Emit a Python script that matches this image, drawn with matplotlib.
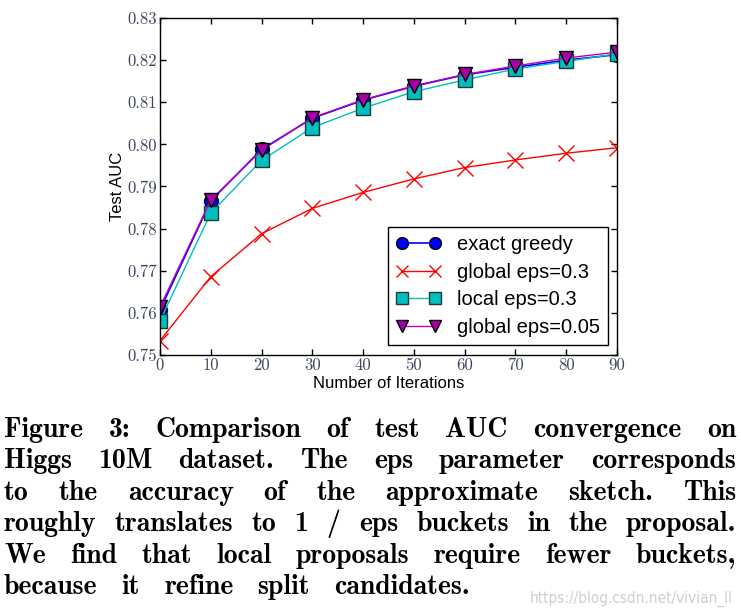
import matplotlib
matplotlib.use("Agg")
import matplotlib.pyplot as plt

# iterations and test AUC
iterations = [0, 10, 20, 30, 40, 50, 60, 70, 80, 90]
exact_greedy = [0.7607, 0.7866, 0.7988, 0.8062, 0.8105, 0.8138, 0.8165, 0.8183, 0.8200, 0.8213]
global_eps_03 = [0.7534, 0.7686, 0.7788, 0.7848, 0.7886, 0.7918, 0.7945, 0.7963, 0.7979, 0.7992]
local_eps_03 = [0.7581, 0.7837, 0.7962, 0.8040, 0.8086, 0.8125, 0.8153, 0.8179, 0.8197, 0.8215]
global_eps_005 = [0.7614, 0.7868, 0.7986, 0.8063, 0.8106, 0.8139, 0.8166, 0.8186, 0.8205, 0.8219]

x_ticks = [0, 10, 20, 30, 40, 50, 60, 70, 80, 90]
y_ticks = [0.75, 0.76, 0.77, 0.78, 0.79, 0.80, 0.81, 0.82, 0.83]

caption_lines = [
    "Figure 3: Comparison of test AUC convergence on",
    "Higgs 10M dataset. The eps parameter corresponds",
    "to the accuracy of the approximate sketch.  This",
    "roughly translates to 1 / eps buckets in the proposal.",
    "We find that local proposals require fewer buckets,",
    "because it refine split candidates.",
]

W, H = 741, 615
fig = plt.figure(figsize=(W / 100, H / 100), dpi=100)
ax = fig.add_axes([160 / W, 1 - 355 / H, (617 - 160) / W, (355 - 18) / H])

sans = ["Liberation Sans", "DejaVu Sans"]

ax.plot(iterations, exact_greedy, color="blue", lw=1.2, marker="o", ms=10,
        mfc="blue", mec="black", mew=1, label="exact greedy")
ax.plot(iterations, global_eps_03, color="red", lw=1.0, marker="x", ms=11,
        mew=1.0, label="global eps=0.3")
ax.plot(iterations, local_eps_03, color="c", lw=1.0, marker="s", ms=10,
        mfc="c", mec="#1a3a3a", mew=1, label="local eps=0.3")
ax.plot(iterations, global_eps_005, color="m", lw=1.0, marker="v", ms=10,
        mfc="#aa00aa", mec="black", mew=1, label="global eps=0.05")

ax.set_xlim(0, 90)
ax.set_ylim(0.75, 0.83)
ax.set_xticks(x_ticks)
ax.set_yticks(y_ticks)
ax.set_xticklabels([str(t) for t in x_ticks], family="cmr10", fontsize=12, color="#3c4660")
ax.set_yticklabels(["%.2f" % t for t in y_ticks], family="cmr10", fontsize=12, color="#3c4660")
ax.tick_params(direction="in", top=True, right=True, length=4, width=1, pad=2)
for s in ax.spines.values():
    s.set_linewidth(1.0)

ax.set_xlabel("Number of Iterations", family=sans, fontsize=12, labelpad=2)
ax.set_ylabel("Test AUC", family=sans, fontsize=12, labelpad=2)

leg = ax.legend(loc="lower right", bbox_to_anchor=(0.98, 0.03), borderaxespad=0,
                numpoints=2, handlelength=2.2, handletextpad=0.8, fancybox=False,
                framealpha=1, edgecolor="black", prop={"family": sans, "size": 14.5},
                labelspacing=0.42, borderpad=0.4, markerscale=0.85)
leg.get_frame().set_linewidth(1.0)

# justified caption, last line stops short
fig.canvas.draw()
renderer = fig.canvas.get_renderer()
left_px = 4
line_ends = [736, 736, 736, 736, 736, 470]
base0, step = 437, 31.4
for i, line in enumerate(caption_lines):
    words = line.split()
    y = 1 - (base0 + i * step) / H
    texts = [fig.text(0, y, w, family="cmb10", fontsize=20, va="baseline") for w in words]
    widths = [t.get_window_extent(renderer).width for t in texts]
    gap = (line_ends[i] - left_px - sum(widths)) / (len(words) - 1)
    x = left_px
    for t, w in zip(texts, widths):
        t.set_x(x / W)
        x += w + gap

fig.text(733 / W, 1 - 603 / H, "https://blog.csdn.net/vivian_ll", ha="right", va="baseline",
         family="DejaVu Sans", fontstretch="condensed", fontsize=11, color="#cfcfcf")

fig.savefig("out.png", dpi=100)
